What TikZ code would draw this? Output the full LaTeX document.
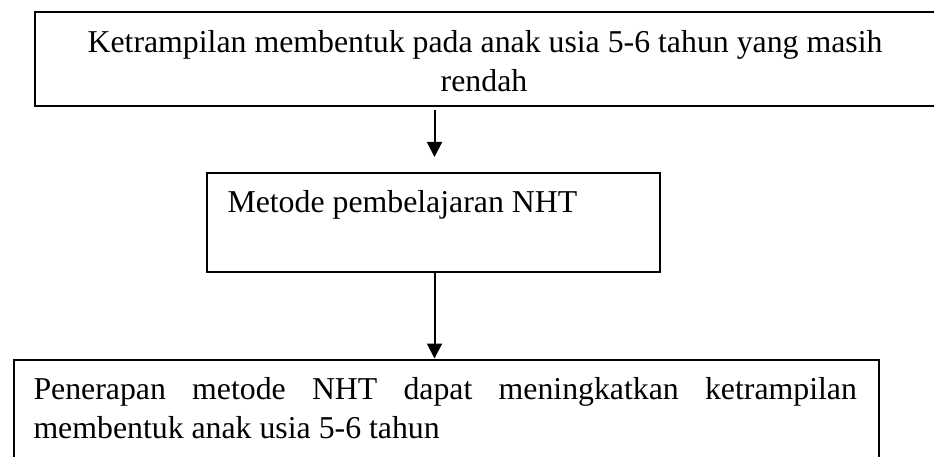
\documentclass[tikz,border=0pt]{standalone}
\usepackage{fontspec}
\setmainfont{Liberation Serif}
\usetikzlibrary{arrows.meta}
\begin{document}
\begin{tikzpicture}[x=1pt,y=-1pt,
  box/.style={draw=black,line width=2pt,rectangle,inner sep=0pt},
  txt/.style={inner sep=0pt,anchor=base,font=\fontsize{31.8}{39.5}\selectfont},
  conn/.style={draw=black,line width=2pt,-{Triangle[width=15pt,length=15pt]}}]
\useasboundingbox (0,0) rectangle (934,457);
% boxes
\node[box,minimum width=903pt,minimum height=93.5pt,anchor=north west] (topbox) at (33.5,11.5) {};
\node[box,minimum width=453pt,minimum height=98.7pt,anchor=north west] (midbox) at (205.7,172) {};
\node[box,minimum width=865.5pt,minimum height=120pt,anchor=north west] (botbox) at (12.5,358.5) {};
% texts
\node[txt] (t1a) at (485,52.5) {Ketrampilan membentuk pada anak usia 5-6 tahun yang masih};
\node[txt] (t1b) at (484,92) {rendah};
\node[txt,anchor=base west] (t2) at (227.3,213) {Metode pembelajaran NHT};
\node[txt,anchor=base west] (t3a) at (33.3,399.3) {\makebox[823.4pt][s]{Penerapan metode NHT dapat meningkatkan ketrampilan}};
\node[txt,anchor=base west] (t3b) at (33.3,438.5) {membentuk anak usia 5-6 tahun};
% connectors
\coordinate (a1s) at (434.5,110);
\coordinate (a1e) at (434.5,157);
\draw[conn] (a1s) -- (a1e);
\draw[conn] (midbox.south -| a1s) -- (botbox.north -| a1s);
\end{tikzpicture}
\end{document}
